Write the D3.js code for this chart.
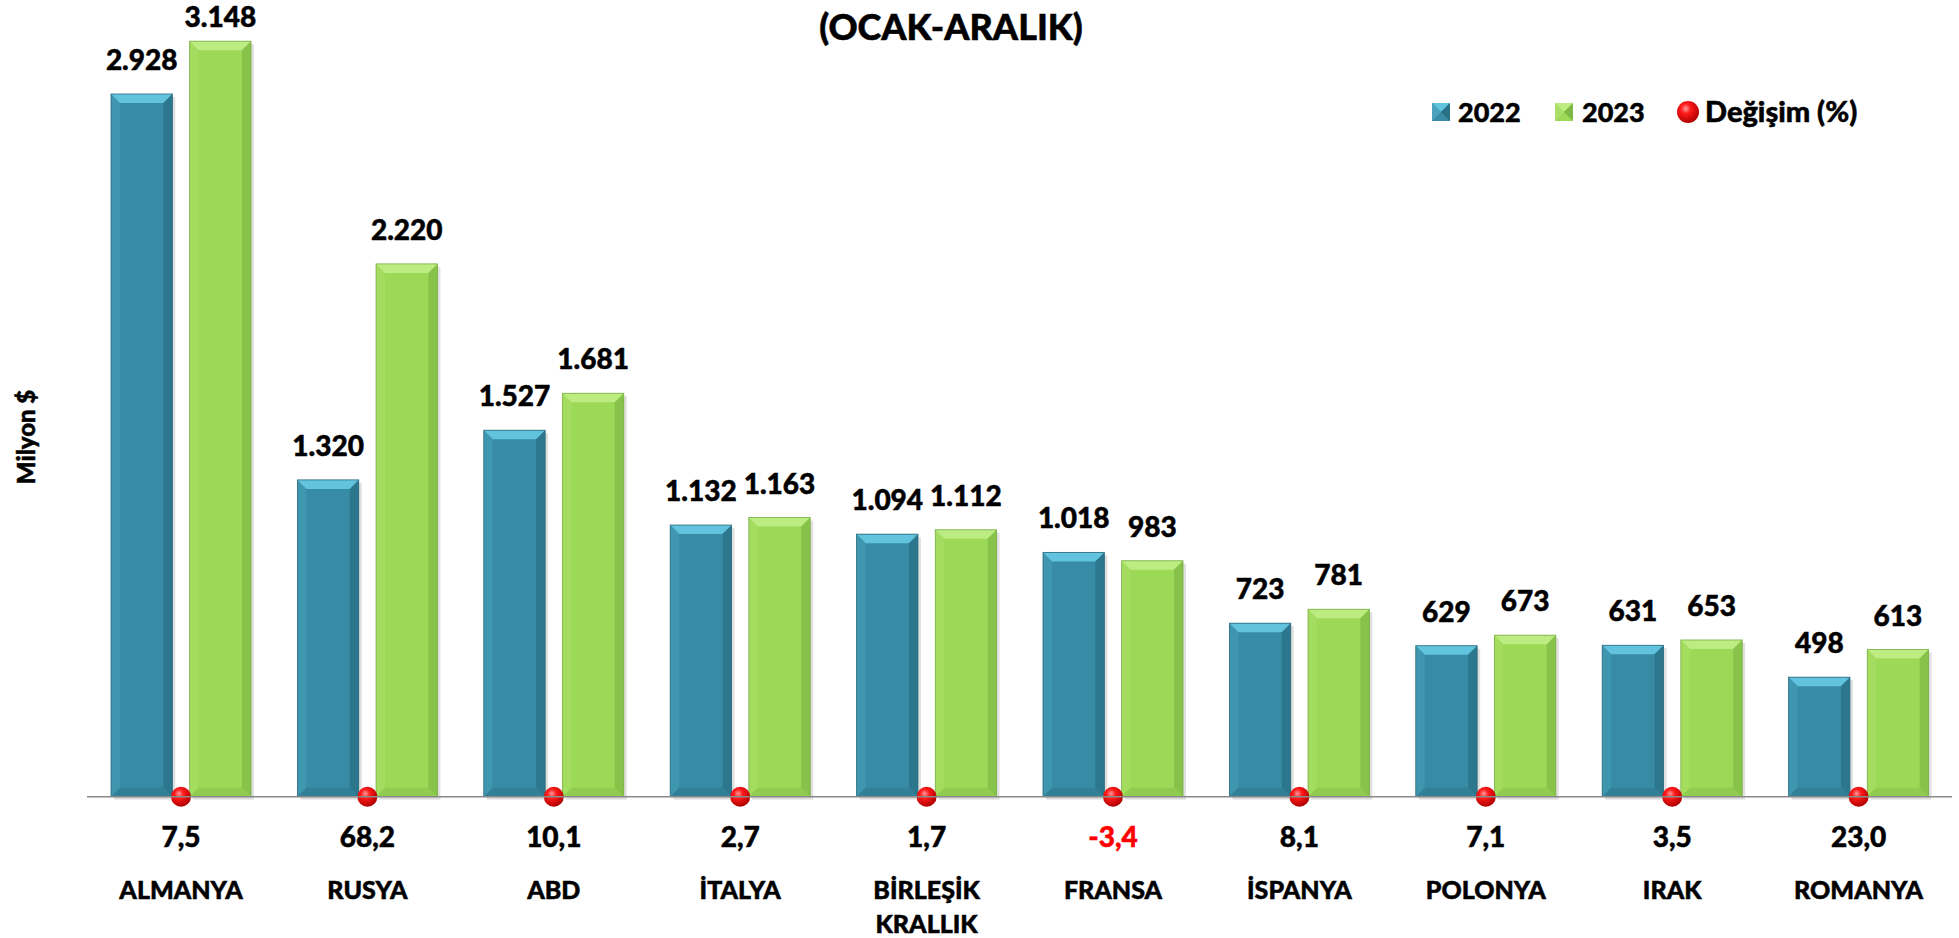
<!DOCTYPE html>
<html><head><meta charset="utf-8">
<script src="https://cdn.jsdelivr.net/npm/d3@7/dist/d3.min.js"></script>
<style>
html,body{margin:0;padding:0;background:#fff;}
svg{display:block;font-family:Lato,"Open Sans",sans-serif;font-weight:900;}
svg text{stroke:#000;stroke-width:0.5px;paint-order:stroke;}
svg text.neg{stroke:#ff0000;}
</style></head>
<body><svg id="chart" width="1959" height="938"></svg>
<script>
const categories = ["ALMANYA","RUSYA","ABD","İTALYA","BİRLEŞİK KRALLIK","FRANSA","İSPANYA","POLONYA","IRAK","ROMANYA"];
const seriesNames = ["2022","2023"];
const values2022 = [2928,1320,1527,1132,1094,1018,723,629,631,498];
const values2023 = [3148,2220,1681,1163,1112,983,781,673,653,613];
const changePct = [7.5,68.2,10.1,2.7,1.7,-3.4,8.1,7.1,3.5,23.0];
const categoryLines = [["ALMANYA"],["RUSYA"],["ABD"],["İTALYA"],["BİRLEŞİK","KRALLIK"],["FRANSA"],["İSPANYA"],["POLONYA"],["IRAK"],["ROMANYA"]];
const title = "(OCAK-ARALIK)";
const yLabel = "Milyon $";
const legendLabels = ["2022","2023","Değişim (%)"];

const loc = d3.formatLocale({decimal:",",thousands:".",grouping:[3],currency:["","$"],minus:"-"});
const fmtInt = loc.format(",d");
const fmtPct = loc.format(".1f");

const svg = d3.select("#chart");
const defs = svg.append("defs");

const pal = {
  "2022": {main:"#388ba4", top:"#62c3df", left:"#4aa3bd", right:"#2a6f84", bottom:"#2f7990", stroke:"#2b6a7d"},
  "2023": {main:"#9bd957", top:"#bdec82", left:"#acdf6a", right:"#7fb945", bottom:"#88c34b", stroke:"#79ad45"}
};

const rg = defs.append("radialGradient").attr("id","dot").attr("cx","40%").attr("cy","35%").attr("r","65%");
rg.append("stop").attr("offset","0%").attr("stop-color","#ff9a9a");
rg.append("stop").attr("offset","35%").attr("stop-color","#ff1a1a");
rg.append("stop").attr("offset","100%").attr("stop-color","#b00000");

const baseY = 796.7;
const y = d3.scaleLinear().domain([0,3300]).range([baseY, baseY-3300*0.24]);
const x0 = d3.scaleBand().domain(categories).range([87.8,1951.8]).padding(0);
const x1 = d3.scaleBand().domain(seriesNames).range([-70,70]).paddingInner(0.22);

const data = categories.map((c,i)=>({c, i, vals:[{s:"2022",v:values2022[i]},{s:"2023",v:values2023[i]}], pct:changePct[i]}));

function bevelBar(g, x, yTop, w, h, p){
  const b = Math.min(9, h/2);
  g.append("rect").attr("x",x+3).attr("y",yTop+3).attr("width",w).attr("height",h)
    .attr("fill","#000").attr("opacity",0.12);
  g.append("rect").attr("x",x).attr("y",yTop).attr("width",w).attr("height",h).attr("fill",p.main);
  g.append("path").attr("d",`M${x},${yTop}L${x+w},${yTop}L${x+w-b},${yTop+b}L${x+b},${yTop+b}Z`).attr("fill",p.top);
  g.append("path").attr("d",`M${x},${yTop}L${x+b},${yTop+b}L${x+b},${yTop+h-b}L${x},${yTop+h}Z`).attr("fill",p.left).attr("opacity",0.45);
  g.append("path").attr("d",`M${x+w},${yTop}L${x+w},${yTop+h}L${x+w-b},${yTop+h-b}L${x+w-b},${yTop+b}Z`).attr("fill",p.right).attr("opacity",0.7);
  g.append("path").attr("d",`M${x},${yTop+h}L${x+w},${yTop+h}L${x+w-b},${yTop+h-b}L${x+b},${yTop+h-b}Z`).attr("fill",p.bottom).attr("opacity",0.6);
  g.append("rect").attr("x",x).attr("y",yTop).attr("width",w).attr("height",h).attr("fill","none").attr("stroke",p.stroke).attr("stroke-width",0.8);
}

const groups = svg.append("g").selectAll("g.grp").data(data).join("g").attr("class","grp")
  .attr("transform",d=>`translate(${x0(d.c)+x0.bandwidth()/2},0)`);

groups.each(function(d){
  const g = d3.select(this);
  d.vals.forEach(e=>{
    bevelBar(g, x1(e.s), y(e.v), x1.bandwidth(), baseY - y(e.v), pal[e.s]);
  });
});

svg.append("line").attr("x1",87).attr("x2",1952).attr("y1",baseY).attr("y2",baseY)
  .attr("stroke","#8a8a8a").attr("stroke-width",1.6);

groups.each(function(d){
  const g = d3.select(this);
  d.vals.forEach(e=>{
    g.append("text").attr("x",x1(e.s)+x1.bandwidth()/2).attr("y",Math.max(y(e.v)-24,27))
      .attr("text-anchor","middle").attr("font-size",28).attr("fill","#000").text(fmtInt(e.v));
  });
});

groups.append("circle").attr("cx",0).attr("cy",y(0)).attr("r",10).attr("fill","url(#dot)");

groups.append("text").attr("x",0).attr("y",847).attr("text-anchor","middle").attr("font-size",28)
  .attr("class",d=>d.pct<0?"neg":null)
  .attr("fill",d=>d.pct<0?"#ff0000":"#000").text(d=>fmtPct(d.pct));

groups.each(function(d){
  const t = d3.select(this).append("text").attr("text-anchor","middle").attr("font-size",25).attr("fill","#000");
  categoryLines[d.i].forEach((ln,k)=>{
    t.append("tspan").attr("x",0).attr("y",899+k*34).text(ln);
  });
});

svg.append("text").attr("x",951).attr("y",40).attr("text-anchor","middle").attr("font-size",36).text(title);

svg.append("text").attr("transform","translate(35,437) rotate(-90)").attr("text-anchor","middle")
  .attr("font-size",24).text(yLabel);

const lg = svg.append("g");
[["2022",1432,1458],["2023",1555,1582]].forEach(([s,sx,tx])=>{
  const p = pal[s];
  const q = lg.append("g").attr("transform",`translate(${sx},103)`);
  q.append("rect").attr("width",18).attr("height",18).attr("fill",p.main);
  q.append("path").attr("d","M0,0L18,0L9,9Z").attr("fill",p.top);
  q.append("path").attr("d","M0,0L9,9L0,18Z").attr("fill",p.left);
  q.append("path").attr("d","M18,0L18,18L9,9Z").attr("fill",p.right);
  lg.append("text").attr("x",tx).attr("y",122).attr("font-size",27).text(s);
});
lg.append("circle").attr("cx",1688).attr("cy",112).attr("r",11).attr("fill","url(#dot)");
lg.append("text").attr("x",1705).attr("y",122).attr("font-size",29).text(legendLabels[2]);
</script></body></html>
